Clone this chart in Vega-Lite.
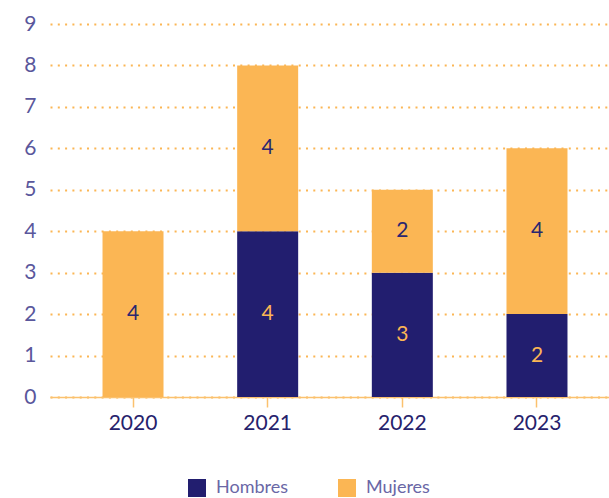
{
  "$schema": "https://vega.github.io/schema/vega-lite/v6.json",
  "autosize": "none",
  "padding": {"left": 50, "top": 24, "right": 0, "bottom": 101},
  "width": 559,
  "height": 373,
  "background": "white",
  "config": {"view": {"stroke": null}, "font": "Lato"},
  "data": {"values": [
    {"year": "2020", "gender": "Mujeres", "value": 4},
    {"year": "2021", "gender": "Hombres", "value": 4},
    {"year": "2021", "gender": "Mujeres", "value": 4},
    {"year": "2022", "gender": "Hombres", "value": 3},
    {"year": "2022", "gender": "Mujeres", "value": 2},
    {"year": "2023", "gender": "Hombres", "value": 2},
    {"year": "2023", "gender": "Mujeres", "value": 4}
  ]},
  "transform": [
    {"stack": "value", "groupby": ["year"], "sort": [{"field": "gender", "order": "ascending"}], "as": ["v0", "v1"]},
    {"calculate": "(datum.v0 + datum.v1) / 2", "as": "mid"}
  ],
  "encoding": {
    "x": {
      "field": "year", "type": "nominal",
      "scale": {"paddingInner": 0.547, "paddingOuter": 0.39, "range": [0, 570]},
      "axis": {
        "title": null, "labelAngle": 0, "domainColor": "#fbc16e", "domainWidth": 1.5,
        "tickColor": "#fbc16e", "tickSize": 10, "tickWidth": 1.5,
        "labelFontSize": 21, "labelColor": "#26226c", "labelFontWeight": 400, "labelPadding": 5
      }
    }
  },
  "layer": [
    {
      "mark": {"type": "bar"},
      "encoding": {
        "y": {
          "field": "v0", "type": "quantitative",
          "scale": {"domain": [0, 9], "nice": false},
          "axis": {
            "title": null, "domain": false, "ticks": false, "values": [0,1,2,3,4,5,6,7,8,9],
            "grid": true, "gridColor": "#fbb654", "gridDash": [2, 5.3], "gridWidth": 2,
            "labelPadding": 14, "labelFontSize": 21, "labelFontWeight": 400, "labelColor": "#5a579c"
          }
        },
        "y2": {"field": "v1"},
        "color": {
          "field": "gender", "type": "nominal",
          "scale": {"domain": ["Hombres", "Mujeres"], "range": ["#221e6f", "#fbb654"]},
          "legend": {
            "title": null, "orient": "none", "legendX": 138, "legendY": 455,
            "direction": "horizontal", "symbolType": "square", "symbolSize": 324,
            "symbolStrokeWidth": 0, "labelFontSize": 18, "labelFontWeight": 400, "labelColor": "#6a67a6",
            "labelOffset": 10, "columnPadding": 49
          }
        }
      }
    },
    {
      "mark": {"type": "text", "fontSize": 21, "fontWeight": 400, "baseline": "middle"},
      "encoding": {
        "y": {"field": "mid", "type": "quantitative"},
        "text": {"field": "value", "type": "quantitative"},
        "color": {"condition": {"test": "datum.gender === 'Hombres'", "value": "#fbb654"}, "value": "#2a2670"}
      }
    }
  ]
}
